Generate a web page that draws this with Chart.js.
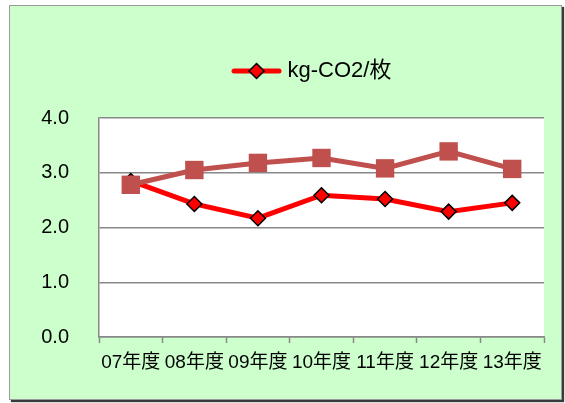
<!DOCTYPE html>
<html>
<head>
<meta charset="utf-8">
<script src="https://cdn.jsdelivr.net/npm/chart.js@4"></script>
<style>
  html, body { margin: 0; padding: 0; background: #ffffff; }
  #frame {
    position: absolute; left: 9px; top: 5px;
    width: 551px; height: 393px;
    background: #CCFFCC;
    border: 1px solid #9a9a9a;
    box-shadow: 2px 2px 1px #3a3a3a;
  }
  #chart { display: block; }
</style>
</head>
<body>
<div id="frame"><canvas id="chart" width="551" height="393"></canvas></div>
<script>
const categories = ['07年度', '08年度', '09年度', '10年度', '11年度', '12年度', '13年度'];
const perSheet = [2.85, 2.43, 2.17, 2.59, 2.52, 2.29, 2.45];
const secondSeries = [2.78, 3.05, 3.18, 3.27, 3.08, 3.39, 3.07];
const yTicks = [0, 1, 2, 3, 4];
const seriesName = 'kg-CO2/枚';

const FONT = '"Liberation Sans", "Noto Sans CJK JP", sans-serif';

// legend swatch: red line with a black-edged diamond
function makeSwatch() {
  const c = document.createElement('canvas');
  c.width = 51; c.height = 18;
  const g = c.getContext('2d');
  g.strokeStyle = '#FF0000'; g.lineWidth = 5; g.lineCap = 'round';
  g.beginPath(); g.moveTo(3, 9); g.lineTo(48, 9); g.stroke();
  g.beginPath();
  g.moveTo(25.5, 1.5); g.lineTo(33, 9); g.lineTo(25.5, 16.5); g.lineTo(18, 9); g.closePath();
  g.fillStyle = '#FF0000'; g.fill();
  g.strokeStyle = '#000000'; g.lineWidth = 1.5; g.stroke();
  return c;
}
const swatch = makeSwatch();

const plotBackground = {
  id: 'plotBackground',
  beforeDraw(chart) {
    const { ctx, chartArea: a } = chart;
    ctx.save();
    ctx.fillStyle = '#ffffff';
    ctx.fillRect(a.left, a.top, a.right - a.left, a.bottom - a.top);
    ctx.restore();
  }
};

const legendSpacing = {
  id: 'legendSpacing',
  beforeInit(chart) {
    const fit = chart.legend.fit;
    chart.legend.fit = function () {
      fit.call(this);
      this.height += 26;
    };
  },
  afterLayout(chart) {
    chart.legend.left += 37;
    chart.legend.right += 37;
  }
};

new Chart(document.getElementById('chart'), {
  type: 'line',
  data: {
    labels: categories,
    datasets: [
      {
        label: seriesName,
        data: perSheet,
        order: 1,
        borderColor: '#FF0000',
        borderWidth: 5,
        backgroundColor: '#FF0000',
        pointStyle: 'rectRot',
        pointRadius: 7.5,
        pointBackgroundColor: '#FF0000',
        pointBorderColor: '#000000',
        pointBorderWidth: 1.5,
        tension: 0
      },
      {
        label: 'series2',
        data: secondSeries,
        order: 0,
        borderColor: '#C0504D',
        borderWidth: 5,
        backgroundColor: '#C0504D',
        pointStyle: 'rect',
        pointRadius: 13,
        pointBackgroundColor: '#C0504D',
        pointBorderColor: '#C0504D',
        pointBorderWidth: 0,
        tension: 0
      }
    ]
  },
  options: {
    responsive: false,
    animation: false,
    layout: { padding: { top: 44, right: 17, bottom: 0, left: 0 } },
    plugins: {
      tooltip: { enabled: false },
      legend: {
        position: 'top',
        labels: {
          font: { family: FONT, size: 22 },
          color: '#000000',
          padding: 10,
          usePointStyle: true,
          pointStyleWidth: 40,
          generateLabels(chart) {
            return [{
              text: seriesName,
              pointStyle: swatch,
              fillStyle: '#FF0000',
              strokeStyle: '#000000',
              lineWidth: 0,
              hidden: false,
              datasetIndex: 0
            }];
          }
        }
      }
    },
    scales: {
      x: {
        offset: true,
        afterFit(scale) { scale.height = 62; },
        grid: {
          offset: true,
          drawOnChartArea: false,
          drawTicks: true,
          tickLength: 6,
          tickWidth: 1.5,
          tickColor: '#888888',
          color: '#888888'
        },
        border: { display: true, color: '#888888', width: 1.5 },
        ticks: {
          font: { family: FONT, size: 19 },
          color: '#000000',
          padding: 8,
          maxRotation: 0,
          autoSkip: false
        }
      },
      y: {
        min: yTicks[0],
        max: yTicks[yTicks.length - 1],
        afterFit(scale) { scale.width = 89; },
        afterBuildTicks(scale) { scale.ticks = yTicks.map(v => ({ value: v })); },
        grid: {
          drawTicks: false,
          color: '#888888',
          lineWidth: 1.5
        },
        border: { display: true, color: '#888888', width: 1.5 },
        ticks: {
          font: { family: FONT, size: 20 },
          color: '#000000',
          padding: 30,
          callback: (v) => Number(v).toFixed(1)
        }
      }
    }
  },
  plugins: [plotBackground, legendSpacing]
});
</script>
</body>
</html>
